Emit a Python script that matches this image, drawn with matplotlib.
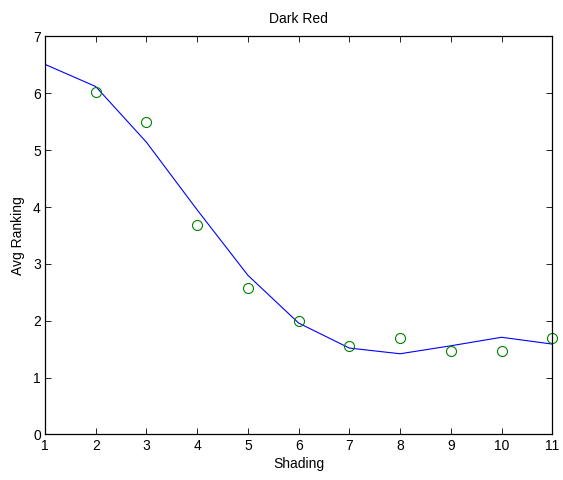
import matplotlib
matplotlib.use("Agg")
import matplotlib.pyplot as plt

plt.rcParams['font.family'] = ['Liberation Sans', 'DejaVu Sans']

# fitted curve and observed averages per shading level
shading = [1, 2, 3, 4, 5, 6, 7, 8, 9, 10, 11]
fit_rank = [6.51, 6.12, 5.14, 3.95, 2.80, 1.96, 1.52, 1.42, 1.56, 1.71, 1.59]
obs_shading = [2, 3, 4, 5, 6, 7, 8, 9, 10, 11]
obs_rank = [6.03, 5.50, 3.68, 2.58, 2.00, 1.56, 1.69, 1.47, 1.47, 1.70]

fig = plt.figure(figsize=(5.63, 4.8), dpi=100)
ax = fig.add_axes([0.0799, 0.0948, 0.9011, 0.8292])

ax.plot(shading, fit_rank, color='#0000ff', linewidth=0.8)
ax.plot(obs_shading, obs_rank, 'o', markerfacecolor='none',
        markeredgecolor='#008000', markersize=7.2, markeredgewidth=0.8,
        clip_on=False)

ax.set_xlim(1, 11)
ax.set_ylim(0, 7)
ax.set_xticks(range(1, 12))
ax.set_yticks(range(0, 8))
ax.tick_params(direction='in', length=4, width=0.6, labelsize=10,
               top=True, right=True, pad=3)
for s in ax.spines.values():
    s.set_linewidth(0.9)

ax.set_title('Dark Red', fontsize=10, pad=10)
ax.set_xlabel('Shading', fontsize=10, labelpad=3)
ax.set_ylabel('Avg Ranking', fontsize=10, labelpad=6)

fig.savefig('out.png', dpi=100)
